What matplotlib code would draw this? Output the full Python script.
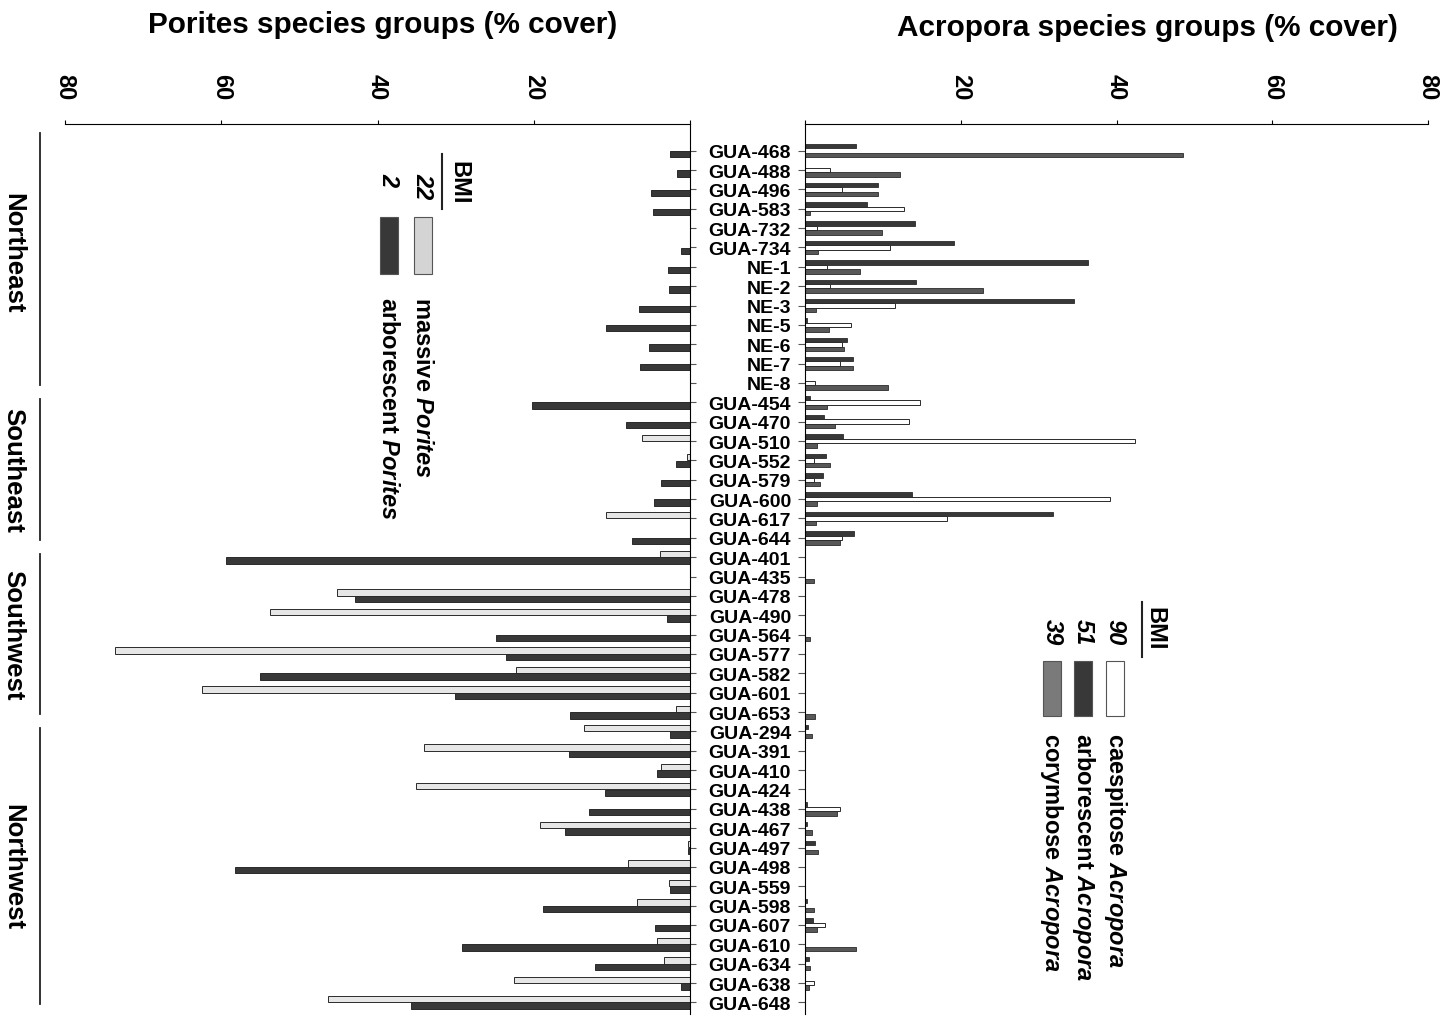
import numpy as np
import matplotlib.pyplot as plt
from matplotlib.patches import Rectangle
from matplotlib.lines import Line2D
from matplotlib import transforms

plt.rcParams['font.family'] = ['Liberation Sans', 'DejaVu Sans']
plt.rcParams['mathtext.fontset'] = 'custom'
plt.rcParams['mathtext.rm'] = 'Liberation Sans:bold'
plt.rcParams['mathtext.it'] = 'Liberation Sans:italic:bold'

# sites, top to bottom
sites = ["GUA-468", "GUA-488", "GUA-496", "GUA-583", "GUA-732", "GUA-734",
         "NE-1", "NE-2", "NE-3", "NE-5", "NE-6", "NE-7", "NE-8",
         "GUA-454", "GUA-470", "GUA-510", "GUA-552", "GUA-579", "GUA-600",
         "GUA-617", "GUA-644",
         "GUA-401", "GUA-435", "GUA-478", "GUA-490", "GUA-564", "GUA-577",
         "GUA-582", "GUA-601", "GUA-653",
         "GUA-294", "GUA-391", "GUA-410", "GUA-424", "GUA-438", "GUA-467",
         "GUA-497", "GUA-498", "GUA-559", "GUA-598", "GUA-607", "GUA-610",
         "GUA-634", "GUA-638", "GUA-648"]
regions = ["Northeast", "Southeast", "Southwest", "Northwest"]
region_sizes = [13, 8, 9, 15]

# Porites % cover
massive_por = [0, 0, 0, 0, 0, 0, 0, 0, 0, 0, 0, 0, 0,
               0, 0, 6.2, 0.4, 0, 0, 10.8, 0,
               3.9, 0, 45.2, 53.7, 0, 73.6, 22.3, 62.5, 1.8,
               13.6, 34.0, 3.7, 35.1, 0, 19.2, 0.3, 7.9, 2.7, 6.8, 0, 4.2, 3.3, 22.5, 46.4]
arbor_por = [2.6, 1.7, 5.0, 4.8, 0, 1.1, 2.8, 2.7, 6.5, 10.8, 5.3, 6.4, 0,
             20.2, 8.2, 0, 1.8, 3.7, 4.6, 0, 7.4,
             59.4, 0, 42.9, 3.0, 24.8, 23.6, 55.1, 30.1, 15.3,
             2.5, 15.5, 4.2, 10.9, 12.9, 16.0, 0.3, 58.2, 2.5, 18.8, 4.5, 29.2, 12.2, 1.1, 35.7]

# Acropora % cover
arbor_acr = [6.6, 0, 9.4, 7.9, 14.1, 19.1, 36.3, 14.2, 34.5, 0.3, 5.4, 6.1, 0,
             0.6, 2.4, 4.9, 2.7, 2.3, 13.7, 31.8, 6.3,
             0, 0, 0, 0, 0, 0, 0, 0, 0,
             0.4, 0, 0, 0, 0.3, 0.3, 1.3, 0, 0, 0.3, 1.0, 0, 0.5, 0, 0]
caesp_acr = [0, 3.2, 4.7, 12.7, 1.5, 10.9, 2.8, 3.2, 11.5, 5.9, 4.7, 4.5, 1.3,
             14.8, 13.3, 42.4, 1.2, 1.1, 39.2, 18.2, 4.7,
             0, 0, 0, 0, 0, 0, 0, 0, 0,
             0, 0, 0, 0, 4.5, 0, 0, 0, 0, 0, 2.6, 0, 0, 1.1, 0]
coryb_acr = [48.5, 12.2, 9.4, 0.6, 9.9, 1.7, 7.0, 22.8, 1.4, 3.1, 5.0, 6.1, 10.6,
             2.8, 3.9, 1.6, 3.2, 1.9, 1.5, 1.4, 4.5,
             0, 1.2, 0, 0, 0.6, 0, 0, 0, 1.3,
             0.9, 0, 0, 0, 4.1, 0.9, 1.7, 0, 0, 1.1, 1.6, 6.6, 0.6, 0.5, 0]

por_bmi = ["22", "2"]
acr_bmi = ["90", "51", "39"]

c_massive = "#e6e6e6"
c_arb = "#383838"
c_cor = "#585858"
c_cor_leg = "#7a7a7a"
edge = "#2a2a2a"

W, H = 1452, 1020
fig = plt.figure(figsize=(W / 100, H / 100), dpi=100)


def fx(x):
    return x / W


def fy(y):
    return 1 - y / H


y = np.arange(len(sites))
ylim = (44.6, -1.38)

# ---- Porites (left) ----
axL = fig.add_axes([fx(65), fy(1015), fx(625), 890 / H])
axL.barh(y - 0.17, massive_por, height=0.33, color=c_massive, edgecolor=edge, linewidth=0.7)
axL.barh(y + 0.17, arbor_por, height=0.33, color=c_arb, edgecolor=edge, linewidth=0.7)
axL.set_xlim(80, 0)
axL.set_ylim(*ylim)
for s in ["left", "bottom"]:
    axL.spines[s].set_visible(False)
axL.xaxis.tick_top()
axL.set_xticks([80, 60, 40, 20, 0])
axL.set_xticklabels(["80", "60", "40", "20", ""], rotation=-90, fontsize=17, fontweight="bold")
axL.tick_params(axis="x", length=3, pad=15)
axL.yaxis.tick_right()
axL.set_yticks(y)
axL.set_yticklabels([])
axL.tick_params(axis="y", length=4, color="#555555")

# ---- Acropora (right) ----
axR = fig.add_axes([fx(805), fy(1015), fx(623), 890 / H])
axR.barh(y - 0.23, arbor_acr, height=0.23, color=c_arb, edgecolor=edge, linewidth=0.6)
axR.barh(y, caesp_acr, height=0.23, color="white", edgecolor=edge, linewidth=0.7)
axR.barh(y + 0.23, coryb_acr, height=0.23, color=c_cor, edgecolor=edge, linewidth=0.6)
axR.set_xlim(0, 80)
axR.set_ylim(*ylim)
for s in ["right", "bottom"]:
    axR.spines[s].set_visible(False)
axR.xaxis.tick_top()
axR.set_xticks([0, 20, 40, 60, 80])
axR.set_xticklabels(["", "20", "40", "60", "80"], rotation=-90, fontsize=17, fontweight="bold")
axR.tick_params(axis="x", length=3, pad=15)
axR.set_yticks(y)
axR.set_yticklabels(sites, fontsize=14, fontweight="bold")
axR.tick_params(axis="y", length=5, pad=5, color="#555555")

# titles
fig.text(fx(383), fy(25), "Porites species groups (% cover)", ha="center", va="center",
         fontsize=21.4, fontweight="bold")
fig.text(fx(1147), fy(28), "Acropora species groups (% cover)", ha="center", va="center",
         fontsize=21.4, fontweight="bold")

# region brackets
trans = transforms.blended_transform_factory(fig.transFigure, axL.transData)
start = 0
for i, (name, n) in enumerate(zip(regions, region_sizes)):
    y0 = start - (0.9 if i == 0 else 0.15)
    y1 = start + n - 1 + 0.1
    fig.add_artist(Line2D([fx(40), fx(40)], [y0, y1], transform=trans, color="#222222", lw=1.3))
    fig.text(fx(13), (y0 + y1) / 2 - (0.35 if i == 0 else 0), name, transform=trans, rotation=-90,
             ha="center", va="center", fontsize=18.5, fontweight="bold")
    start += n


def legend_block(bmi_x, bmi_y, line_x, line_y, cols, bmis, colors, labels, box_y, text_y):
    fig.text(fx(bmi_x), fy(bmi_y), "BMI", rotation=-90, ha="center", va="center",
             fontsize=17, fontweight="bold")
    fig.add_artist(Line2D([fx(line_x)] * 2, [fy(line_y[0]), fy(line_y[1])],
                          transform=fig.transFigure, color="#222222", lw=1.5))
    for cx, b, c, lab in zip(cols, bmis, colors, labels):
        fig.text(fx(cx), fy(bmi_y - 10), b, rotation=-90, rotation_mode="anchor",
                 ha="left", va="center", fontsize=17, fontweight="bold", style="italic")
        fig.add_artist(Rectangle((fx(cx - 9), fy(box_y[1])), fx(18), (box_y[1] - box_y[0]) / H,
                                 transform=fig.transFigure, facecolor=c, edgecolor="#555555", lw=0.8))
        fig.text(fx(cx), fy(text_y), lab, rotation=-90, rotation_mode="anchor",
                 ha="left", va="center", fontsize=17, fontweight="bold")


legend_block(459, 183, 442, (155, 210), [423, 389], por_bmi, ["#d4d4d4", c_arb],
             [r"massive $\it{Porites}$", r"arborescent $\it{Porites}$"], (218, 275), 297)
legend_block(1155, 629, 1142, (603, 658), [1115, 1083, 1052], acr_bmi, ["white", c_arb, c_cor_leg],
             [r"caespitose $\it{Acropora}$", r"arborescent $\it{Acropora}$", r"corymbose $\it{Acropora}$"],
             (662, 717), 733)

fig.savefig("out.png", dpi=100)
